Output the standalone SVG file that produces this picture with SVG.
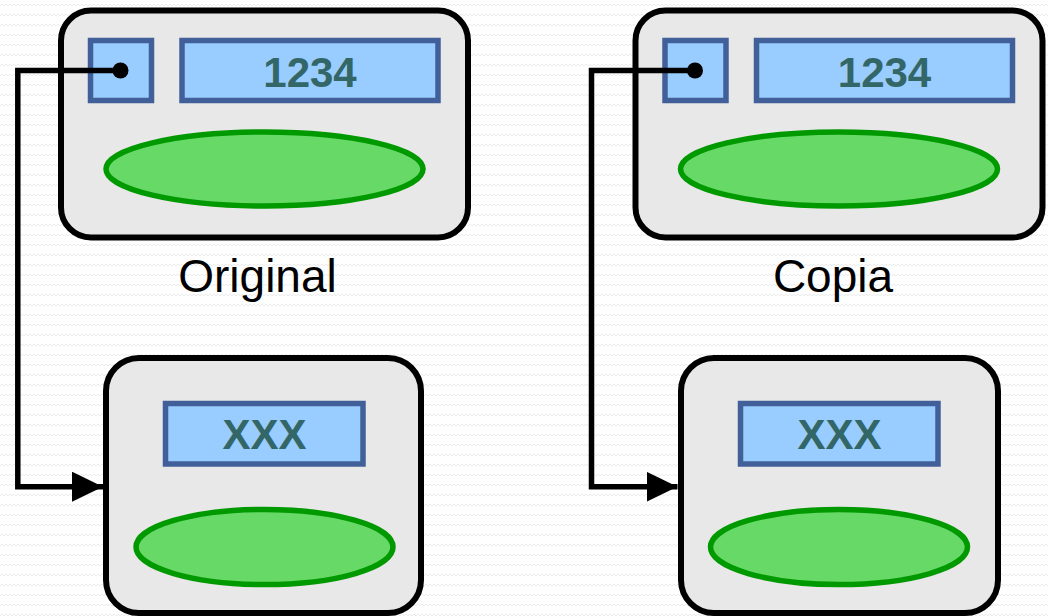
<svg xmlns="http://www.w3.org/2000/svg" width="1048" height="616" viewBox="0 0 1048 616">
<style>
.box{fill:#e8e8e8;stroke:#000;stroke-width:6}
.cell{fill:#99ccff;stroke:#41609a;stroke-width:5.5}
.oval{fill:#66d966;stroke:#009900;stroke-width:5.5}
.val{font-family:"Liberation Sans",Arial,sans-serif;font-weight:bold;font-size:42px;fill:#336666;text-anchor:middle}
.lbl{font-family:"Liberation Sans",Arial,sans-serif;font-size:46px;fill:#000;text-anchor:middle}
.wire{fill:none;stroke:#000;stroke-width:5.5}
</style>
<defs>
<pattern id="bg" width="8" height="10" patternUnits="userSpaceOnUse">
<path d="M0 6 L2 4 L4 6 L6 4 L8 6" fill="none" stroke="#ececec" stroke-width="1"/>
</pattern>
<marker id="arr" markerUnits="userSpaceOnUse" markerWidth="32" markerHeight="32" refX="31" refY="15" orient="auto">
<path d="M0 0 L31 15 L0 30 Z" fill="#000"/>
</marker>
</defs>
<rect width="1048" height="616" fill="#fff"/>
<rect width="1048" height="616" fill="url(#bg)"/>

<g id="original-obj">
<rect class="box" x="61" y="10.5" width="407" height="227" rx="30"/>
<rect class="cell" x="90.5" y="40.5" width="61" height="60"/>
<rect class="cell" x="182" y="40.5" width="256" height="60"/>
<text class="val" x="310" y="87">1234</text>
<ellipse class="oval" cx="264.5" cy="169" rx="158.5" ry="37"/>
</g>
<g id="original-label"><text class="lbl" x="257.5" y="292">Original</text></g>
<g id="original-ref">
<rect class="box" x="106" y="358" width="315" height="255" rx="33"/>
<rect class="cell" x="165.5" y="403.5" width="197.5" height="60.5"/>
<text class="val" x="264.5" y="449">XXX</text>
<ellipse class="oval" cx="264.5" cy="547" rx="128.5" ry="37.5"/>
</g>

<g id="copy-obj">
<rect class="box" x="635.5" y="10.5" width="407" height="227" rx="30"/>
<rect class="cell" x="665" y="40.5" width="61" height="60"/>
<rect class="cell" x="756.5" y="40.5" width="256" height="60"/>
<text class="val" x="884.5" y="87">1234</text>
<ellipse class="oval" cx="839" cy="169" rx="158.5" ry="37"/>
</g>
<g id="copy-label"><text class="lbl" x="833" y="292">Copia</text></g>
<g id="copy-ref">
<rect class="box" x="681" y="358" width="317" height="255" rx="33"/>
<rect class="cell" x="740.5" y="403.5" width="197.5" height="60.5"/>
<text class="val" x="839.5" y="449">XXX</text>
<ellipse class="oval" cx="839" cy="547" rx="128.5" ry="37.5"/>
</g>

<g id="connectors">
<circle cx="120.5" cy="70.5" r="8" fill="#000"/>
<path class="wire" d="M120.5 70.5 H17.8 V486.7 H103" marker-end="url(#arr)"/>
<circle cx="695" cy="70.5" r="8" fill="#000"/>
<path class="wire" d="M695 70.5 H591.5 V486.7 H677.5" marker-end="url(#arr)"/>
</g>
</svg>
